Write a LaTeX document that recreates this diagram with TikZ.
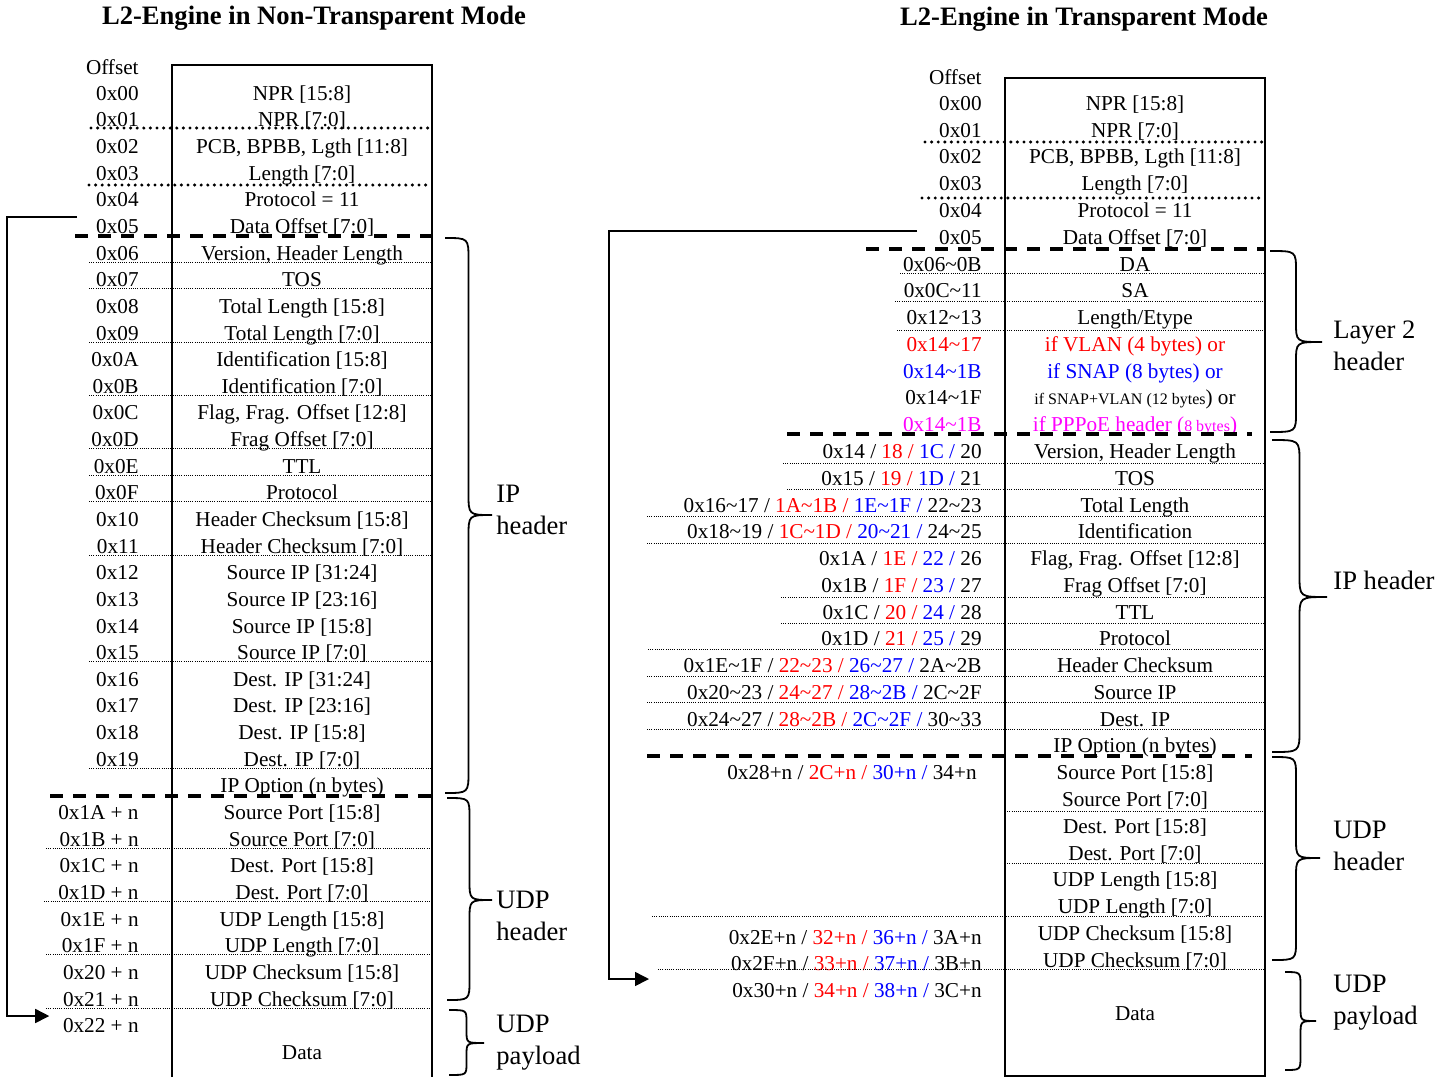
\documentclass[tikz,border=0pt]{standalone}
\usepackage{fontspec}
\setmainfont{Liberation Serif}
\usetikzlibrary{arrows.meta}
\definecolor{vlanred}{RGB}{255,0,0}
\definecolor{snapblue}{RGB}{0,0,255}
\definecolor{pppoepink}{RGB}{255,0,255}
\newcommand{\upto}{\textasciitilde}
\newcommand{\vl}[1]{\textcolor{vlanred}{#1}}
\newcommand{\sn}[1]{\textcolor{snapblue}{#1}}
\newcommand{\bracecurve}[6]{%
  \pgfmathsetmacro{\bracemid}{(#1+#5)/2}
  \draw[curly] (#1,#2) .. controls (\bracemid,#2) .. (\bracemid,#2+#6)
    -- (\bracemid,#4-#6) .. controls (\bracemid,#4) .. (#5,#4)
    .. controls (\bracemid,#4) .. (\bracemid,#4+#6)
    -- (\bracemid,#3-#6) .. controls (\bracemid,#3) .. (#1,#3);}
\begin{document}
\begin{tikzpicture}[
  x=0.5pt,y=-0.5pt,
  cell/.style={font=\fontsize{10.6}{12}\selectfont,inner sep=0pt,text height=7.6pt,text depth=2.4pt},
  offset/.style={cell,anchor=east},
  heading/.style={font=\fontsize{13.3}{16}\selectfont\bfseries,inner sep=0pt},
  part/.style={font=\fontsize{13.3}{16}\selectfont,align=left,anchor=west,inner sep=0pt},
  frame/.style={line width=1pt},
  bigdots/.style={line width=1.7pt,line cap=round,dash pattern=on 0pt off 3.3pt},
  finedots/.style={line width=0.5pt,dash pattern=on 0.5pt off 0.6pt},
  cut/.style={line width=1.6pt,dash pattern=on 6.5pt off 5pt},
  flow/.style={-{Triangle[length=7pt,width=7pt]},line width=0.75pt},
  curly/.style={line width=0.9pt}
]
\useasboundingbox (0,0) rectangle (1451,1077);

% non-transparent mode
\node[heading] (ltitle) at (314,18) {L2-Engine in Non-Transparent Mode};
\draw[frame] (172,1077) |- (432,65) -- (432,1077);
\node[offset] (lofs) at (139,69) {Offset};
\node[cell] (lf0) at (302,95.0) {NPR [15:8]};               \node[offset] (lo0) at (139,95.0) {0x00};
\node[cell] (lf1) at (302,121.6) {NPR [7:0]};               \node[offset] (lo1) at (139,121.6) {0x01};
\node[cell] (lf2) at (302,148.3) {PCB, BPBB, Lgth [11:8]};  \node[offset] (lo2) at (139,148.3) {0x02};
\node[cell] (lf3) at (302,174.9) {Length [7:0]};            \node[offset] (lo3) at (139,174.9) {0x03};
\node[cell] (lf4) at (302,201.6) {Protocol = 11};           \node[offset] (lo4) at (139,201.6) {0x04};
\node[cell] (lf5) at (302,228.2) {Data Offset [7:0]};       \node[offset] (lo5) at (139,228.2) {0x05};
\node[cell] (lf6) at (302,254.8) {Version, Header Length};  \node[offset] (lo6) at (139,254.8) {0x06};
\node[cell] (lf7) at (302,281.5) {TOS};                     \node[offset] (lo7) at (139,281.5) {0x07};
\node[cell] (lf8) at (302,308.1) {Total Length [15:8]};     \node[offset] (lo8) at (139,308.1) {0x08};
\node[cell] (lf9) at (302,334.8) {Total Length [7:0]};      \node[offset] (lo9) at (139,334.8) {0x09};
\node[cell] (lf10) at (302,361.4) {Identification [15:8]};  \node[offset] (lo10) at (139,361.4) {0x0A};
\node[cell] (lf11) at (302,388.0) {Identification [7:0]};   \node[offset] (lo11) at (139,388.0) {0x0B};
\node[cell] (lf12) at (302,414.7) {Flag, Frag. Offset [12:8]}; \node[offset] (lo12) at (139,414.7) {0x0C};
\node[cell] (lf13) at (302,441.3) {Frag Offset [7:0]};      \node[offset] (lo13) at (139,441.3) {0x0D};
\node[cell] (lf14) at (302,468.0) {TTL};                    \node[offset] (lo14) at (139,468.0) {0x0E};
\node[cell] (lf15) at (302,494.6) {Protocol};               \node[offset] (lo15) at (139,494.6) {0x0F};
\node[cell] (lf16) at (302,521.2) {Header Checksum [15:8]}; \node[offset] (lo16) at (139,521.2) {0x10};
\node[cell] (lf17) at (302,547.9) {Header Checksum [7:0]};  \node[offset] (lo17) at (139,547.9) {0x11};
\node[cell] (lf18) at (302,574.5) {Source IP [31:24]};      \node[offset] (lo18) at (139,574.5) {0x12};
\node[cell] (lf19) at (302,601.2) {Source IP [23:16]};      \node[offset] (lo19) at (139,601.2) {0x13};
\node[cell] (lf20) at (302,627.8) {Source IP [15:8]};       \node[offset] (lo20) at (139,627.8) {0x14};
\node[cell] (lf21) at (302,654.4) {Source IP [7:0]};        \node[offset] (lo21) at (139,654.4) {0x15};
\node[cell] (lf22) at (302,681.1) {Dest. IP [31:24]};       \node[offset] (lo22) at (139,681.1) {0x16};
\node[cell] (lf23) at (302,707.7) {Dest. IP [23:16]};       \node[offset] (lo23) at (139,707.7) {0x17};
\node[cell] (lf24) at (302,734.4) {Dest. IP [15:8]};        \node[offset] (lo24) at (139,734.4) {0x18};
\node[cell] (lf25) at (302,761.0) {Dest. IP [7:0]};         \node[offset] (lo25) at (139,761.0) {0x19};
\node[cell] (lf26) at (302,787.6) {IP Option (n bytes)};
\node[cell] (lf27) at (302,814.3) {Source Port [15:8]};     \node[offset] (lo27) at (139,814.3) {0x1A + n};
\node[cell] (lf28) at (302,840.9) {Source Port [7:0]};      \node[offset] (lo28) at (139,840.9) {0x1B + n};
\node[cell] (lf29) at (302,867.6) {Dest. Port [15:8]};      \node[offset] (lo29) at (139,867.6) {0x1C + n};
\node[cell] (lf30) at (302,894.2) {Dest. Port [7:0]};       \node[offset] (lo30) at (139,894.2) {0x1D + n};
\node[cell] (lf31) at (302,920.8) {UDP Length [15:8]};      \node[offset] (lo31) at (139,920.8) {0x1E + n};
\node[cell] (lf32) at (302,947.5) {UDP Length [7:0]};       \node[offset] (lo32) at (139,947.5) {0x1F + n};
\node[cell] (lf33) at (302,974.1) {UDP Checksum [15:8]};    \node[offset] (lo33) at (139,974.1) {0x20 + n};
\node[cell] (lf34) at (302,1000.8) {UDP Checksum [7:0]};    \node[offset] (lo34) at (139,1000.8) {0x21 + n};
\node[offset] (lo35) at (139,1027.4) {0x22 + n};
\node[cell] (ldata) at (302,1054) {Data};

\draw[bigdots] (91,128) -- (432,128) (89,185) -- (432,185);
\draw[cut] (75,236) -- (432,236) (50,796) -- (432,796);
\draw[finedots] (89,262) -- (432,262) (89,288.7) -- (432,288.7) (89,342) -- (432,342)
  (89,395.2) -- (432,395.2) (89,448.5) -- (432,448.5) (89,475.2) -- (432,475.2)
  (89,501.8) -- (432,501.8) (89,555.1) -- (432,555.1) (89,661.6) -- (432,661.6)
  (89,768.2) -- (432,768.2);
\draw[finedots] (46,848.1) -- (432,848.1) (44,901.4) -- (432,901.4)
  (46,954.7) -- (432,954.7) (46,1008) -- (432,1008);
\draw[flow] ([xshift=-9.3pt,yshift=5.6pt]lo5.west) -- ++(-35pt,0) |- ([xshift=-6.7pt,yshift=5.7pt]lo35.west);

\bracecurve{445}{238}{793}{515}{492}{22}
\bracecurve{447}{798}{1000}{900}{492}{20}
\bracecurve{449}{1010}{1075}{1043}{484}{12}
\node[part] (lipl) at (496,510) {IP\\header};
\node[part] (ludpl) at (496,916) {UDP\\header};
\node[part] (lpayl) at (496,1043) {UDP\\payload};

% transparent mode
\node[heading] (rtitle) at (1084,19) {L2-Engine in Transparent Mode};
\draw[frame] (1005,78) rectangle (1265,1076);
\node[offset] (rofs) at (982,79) {Offset};
\node[cell] (rf0) at (1135,105.2) {NPR [15:8]};              \node[offset] (ro0) at (982,105.2) {0x00};
\node[cell] (rf1) at (1135,132.0) {NPR [7:0]};               \node[offset] (ro1) at (982,132.0) {0x01};
\node[cell] (rf2) at (1135,158.7) {PCB, BPBB, Lgth [11:8]};  \node[offset] (ro2) at (982,158.7) {0x02};
\node[cell] (rf3) at (1135,185.5) {Length [7:0]};            \node[offset] (ro3) at (982,185.5) {0x03};
\node[cell] (rf4) at (1135,212.3) {Protocol = 11};           \node[offset] (ro4) at (982,212.3) {0x04};
\node[cell] (rf5) at (1135,239.1) {Data Offset [7:0]};       \node[offset] (ro5) at (982,239.1) {0x05};
\node[cell] (rf6) at (1135,265.8) {DA};                      \node[offset] (ro6) at (982,265.8) {0x06\upto0B};
\node[cell] (rf7) at (1135,292.6) {SA};                      \node[offset] (ro7) at (982,292.6) {0x0C\upto11};
\node[cell] (rf8) at (1135,319.4) {Length/Etype};            \node[offset] (ro8) at (982,319.4) {0x12\upto13};
\node[cell,text=vlanred] (rf9) at (1135,346.1) {if VLAN (4 bytes) or};
\node[offset,text=vlanred] (ro9) at (982,346.1) {0x14\upto17};
\node[cell,text=snapblue] (rf10) at (1135,372.9) {if SNAP (8 bytes) or};
\node[offset,text=snapblue] (ro10) at (982,372.9) {0x14\upto1B};
\node[cell] (rf11) at (1135,399.7) {{\fontsize{8}{9}\selectfont if SNAP+VLAN (12 bytes}) or};
\node[offset] (ro11) at (982,399.7) {0x14\upto1F};
\node[cell,text=pppoepink] (rf12) at (1135,426.4) {if PPPoE header ({\fontsize{8}{9}\selectfont 8 bytes})};
\node[offset,text=pppoepink] (ro12) at (982,426.4) {0x14\upto1B};
\node[cell] (rf13) at (1135,453.2) {Version, Header Length};  \node[offset] (ro13) at (982,453.2) {0x14 / \vl{18 /} \sn{1C /} 20};
\node[cell] (rf14) at (1135,480.0) {TOS};                     \node[offset] (ro14) at (982,480.0) {0x15 / \vl{19 /} \sn{1D /} 21};
\node[cell] (rf15) at (1135,506.8) {Total Length};            \node[offset] (ro15) at (982,506.8) {0x16\upto17 / \vl{1A\upto1B /} \sn{1E\upto1F /} 22\upto23};
\node[cell] (rf16) at (1135,533.5) {Identification};          \node[offset] (ro16) at (982,533.5) {0x18\upto19 / \vl{1C\upto1D /} \sn{20\upto21 /} 24\upto25};
\node[cell] (rf17) at (1135,560.3) {Flag, Frag. Offset [12:8]}; \node[offset] (ro17) at (982,560.3) {0x1A / \vl{1E /} \sn{22 /} 26};
\node[cell] (rf18) at (1135,587.1) {Frag Offset [7:0]};       \node[offset] (ro18) at (982,587.1) {0x1B / \vl{1F /} \sn{23 /} 27};
\node[cell] (rf19) at (1135,613.8) {TTL};                     \node[offset] (ro19) at (982,613.8) {0x1C / \vl{20 /} \sn{24 /} 28};
\node[cell] (rf20) at (1135,640.6) {Protocol};                \node[offset] (ro20) at (982,640.6) {0x1D / \vl{21 /} \sn{25 /} 29};
\node[cell] (rf21) at (1135,667.4) {Header Checksum};         \node[offset] (ro21) at (982,667.4) {0x1E\upto1F / \vl{22\upto23 /} \sn{26\upto27 /} 2A\upto2B};
\node[cell] (rf22) at (1135,694.1) {Source IP};               \node[offset] (ro22) at (982,694.1) {0x20\upto23 / \vl{24\upto27 /} \sn{28\upto2B /} 2C\upto2F};
\node[cell] (rf23) at (1135,720.9) {Dest. IP};                \node[offset] (ro23) at (982,720.9) {0x24\upto27 / \vl{28\upto2B /} \sn{2C\upto2F /} 30\upto33};
\node[cell] (rf24) at (1135,747.7) {IP Option (n bytes)};
\node[cell] (rf25) at (1135,774.5) {Source Port [15:8]};      \node[offset] (ro25) at (977,774.5) {0x28+n / \vl{2C+n /} \sn{30+n /} 34+n};
\node[cell] (rf26) at (1135,801.2) {Source Port [7:0]};
\node[cell] (rf27) at (1135,828.0) {Dest. Port [15:8]};
\node[cell] (rf28) at (1135,854.8) {Dest. Port [7:0]};
\node[cell] (rf29) at (1135,881.5) {UDP Length [15:8]};
\node[cell] (rf30) at (1135,908.3) {UDP Length [7:0]};
\node[cell] (rf31) at (1135,935.1) {UDP Checksum [15:8]};     \node[offset] (ro31) at (982,939) {0x2E+n / \vl{32+n /} \sn{36+n /} 3A+n};
\node[cell] (rf32) at (1135,961.8) {UDP Checksum [7:0]};      \node[offset] (ro32) at (982,965) {0x2F+n / \vl{33+n /} \sn{37+n /} 3B+n};
\node[offset] (ro33) at (982,992) {0x30+n / \vl{34+n /} \sn{38+n /} 3C+n};
\node[cell] (rdata) at (1135,1015) {Data};

\draw[bigdots] (925,142) -- (1265,142) (922,198) -- (1265,198);
\draw[cut] (866,249) -- (1265,249) (787,434) -- (1252,434) (647,756) -- (1252,756);
\draw[finedots] (900,273) -- (1265,273) (895,301) -- (1265,301) (897,330) -- (1265,330)
  (783,463) -- (1265,463) (787,489) -- (1265,489) (647,516) -- (1265,516)
  (647,543) -- (1265,543) (781,597) -- (1265,597) (781,623) -- (1265,623)
  (648,649) -- (1265,649) (647,676) -- (1265,676) (647,702) -- (1265,702)
  (647,729) -- (1265,729);
\draw[finedots] (1005,811) -- (1265,811) (1005,863) -- (1265,863)
  (652,916) -- (1265,916) (658,969) -- (1265,969);
\coordinate (rtip) at (649,979);
\draw[flow] ([xshift=-10.8pt,yshift=4pt]ro5.west) -- ++(-154pt,0) |- (rtip);

\bracecurve{1270}{251}{432}{342}{1322}{20}
\bracecurve{1272}{440}{752}{597}{1327}{22}
\bracecurve{1272}{757}{960}{858}{1320}{20}
\bracecurve{1285}{972}{1070}{1021}{1316}{14}
\node[part] (rl2l) at (1333,346) {Layer 2\\header};
\node[part] (ripl) at (1333,580) {IP header};
\node[part] (rudpl) at (1333,846) {UDP\\header};
\node[part] (rpayl) at (1333,1003) {UDP\\payload};
\end{tikzpicture}
\end{document}
